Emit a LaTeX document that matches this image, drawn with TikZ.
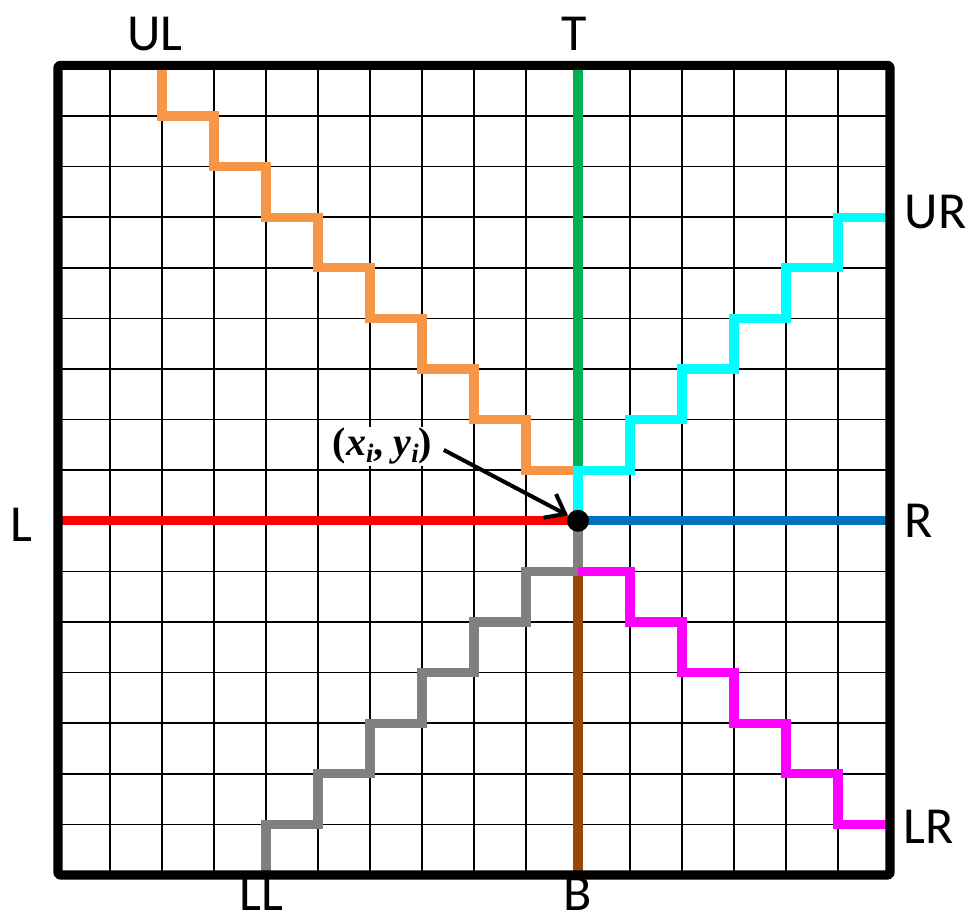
\documentclass[tikz,border=0pt]{standalone}
\usepackage{fontspec}
\setmainfont{Carlito}
\usetikzlibrary{arrows.meta}
\definecolor{cOrange}{HTML}{F79646}
\definecolor{cGreen}{HTML}{00B050}
\definecolor{cCyan}{HTML}{00FFFF}
\definecolor{cRed}{HTML}{FF0000}
\definecolor{cBlue}{HTML}{0070C0}
\definecolor{cGray}{HTML}{808080}
\definecolor{cBrown}{HTML}{974806}
\definecolor{cMagenta}{HTML}{FF00FF}
\tikzset{
  gridline/.style={line width=1.1pt, black},
  frameline/.style={line width=6.8pt, black, line join=round, rounded corners=1.5pt},
  route/.style={line width=7pt, line join=miter},
  edgelabel/.style={anchor=base, inner sep=0pt, font=\fontsize{39}{39}\selectfont},
}
\begin{document}
\begin{tikzpicture}[x=39pt, y=37.95pt]
\useasboundingbox (-1.1154,-0.909) rectangle (17.5577,17.292);
% grid
\foreach \k in {1,...,15} {
  \draw[gridline] (\k,0) -- (\k,16);
  \draw[gridline] (0,\k) -- (16,\k);
}
% routes
\coordinate (c) at (10,7);
\draw[route, cRed] (0,7) -- (c);
\draw[route, cBlue] (c) -- (16,7);
\draw[route, cGreen] (10,16) -- (10,8);
\draw[route, cBrown] (10,6) -- (10,0);
\draw[route, cOrange] (10,8) -- (9,8) -- (9,9) -- (8,9) -- (8,10) -- (7,10) -- (7,11) -- (6,11) -- (6,12) -- (5,12) -- (5,13) -- (4,13) -- (4,14) -- (3,14) -- (3,15) -- (2,15) -- (2,16);
\draw[route, cCyan] (c) -- (10,8) -- (11,8) -- (11,9) -- (12,9) -- (12,10) -- (13,10) -- (13,11) -- (14,11) -- (14,12) -- (15,12) -- (15,13) -- (16,13);
\draw[route, cGray] (c) -- (10,6) -- (9,6) -- (9,5) -- (8,5) -- (8,4) -- (7,4) -- (7,3) -- (6,3) -- (6,2) -- (5,2) -- (5,1) -- (4,1) -- (4,0);
\draw[route, cMagenta] (10,6) -- (11,6) -- (11,5) -- (12,5) -- (12,4) -- (13,4) -- (13,3) -- (14,3) -- (14,2) -- (15,2) -- (15,1) -- (16,1);
% frame
\draw[frameline] (0,0) rectangle (16,16);
% center point
\node[circle, fill=black, inner sep=0pt, minimum size=16.5pt] (dot) at (c) {};
% annotation
\node[fill=white, inner xsep=2pt, inner ysep=1pt] (lbl) at (6.24,8.47)
  {\fontspec{Liberation Serif}\bfseries\fontsize{30}{30}\selectfont (\textit{x}\raisebox{-0.35ex}{\fontsize{20}{20}\selectfont\textit{i}}, \textit{y}\raisebox{-0.35ex}{\fontsize{20}{20}\selectfont\textit{i}})};
\coordinate (as) at (7.42,8.40);
\draw[line width=3pt, -{Straight Barb[length=13pt, width=20pt, line width=3pt]}] (as) -- (dot);
% edge labels
\node[edgelabel] (UL) at (1.86,16.30) {UL};
\node[edgelabel] (T) at (9.93,16.30) {T};
\node[edgelabel] (UR) at (16.88,12.77) {UR};
\node[edgelabel] (L) at (-0.71,6.60) {L};
\node[edgelabel] (R) at (16.55,6.66) {R};
\node[edgelabel] (LL) at (3.92,-0.70) {LL};
\node[edgelabel] (B) at (10.0,-0.70) {B};
\node[edgelabel] (LR) at (16.75,0.63) {LR};
\end{tikzpicture}
\end{document}
